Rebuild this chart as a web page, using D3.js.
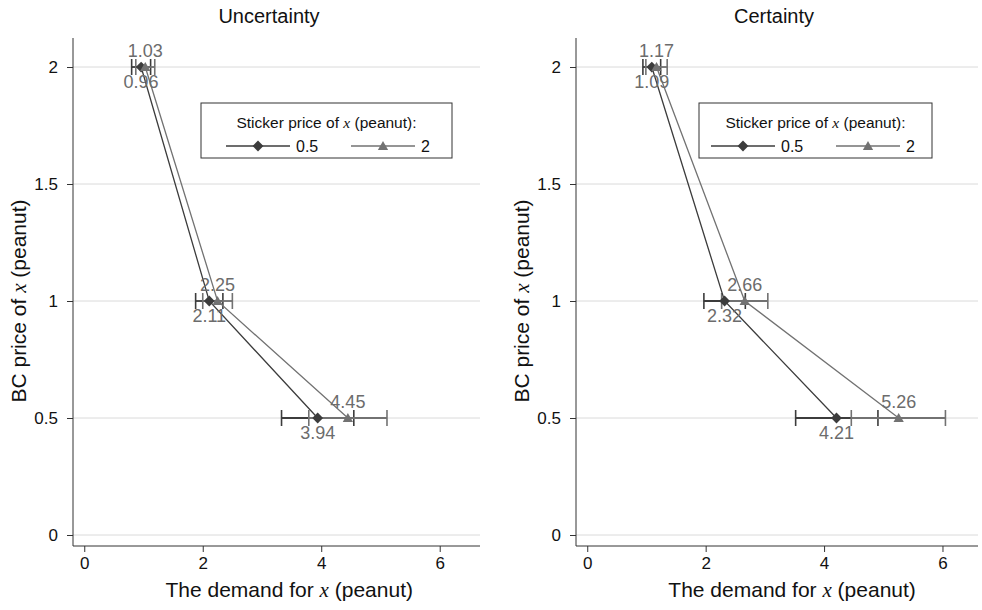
<!DOCTYPE html>
<html>
<head>
<meta charset="utf-8">
<script src="https://cdn.jsdelivr.net/npm/d3@7"></script>
<style>
  body { margin: 0; background: #fff; }
  svg { display: block; font-family: "Liberation Sans", Arial, Helvetica, sans-serif; }
</style>
</head>
<body>
<svg id="chart" width="982" height="610"></svg>
<script>
// BC price levels of x (y values)
const bcPrices = [2, 1, 0.5];
const yTicks = [0, 0.5, 1, 1.5, 2];
const xTicks = [0, 2, 4, 6];
const stickerPrices = ["0.5", "2"];

// Uncertainty panel: mean demand and 95% interval bounds
const uncDemandLow = [0.96, 2.11, 3.94];
const uncLowCiLo = [0.80, 1.88, 3.33];
const uncLowCiHi = [1.12, 2.34, 4.55];
const uncDemandHigh = [1.03, 2.25, 4.45];
const uncHighCiLo = [0.87, 2.00, 3.79];
const uncHighCiHi = [1.19, 2.50, 5.11];

// Certainty panel
const cerDemandLow = [1.09, 2.32, 4.21];
const cerLowCiLo = [0.94, 1.97, 3.52];
const cerLowCiHi = [1.24, 2.67, 4.91];
const cerDemandHigh = [1.17, 2.66, 5.26];
const cerHighCiLo = [0.99, 2.27, 4.46];
const cerHighCiHi = [1.35, 3.05, 6.05];

const panels = [
  { title: "Uncertainty", left: 73, right: 480, xMax: 6.68, titleX: 269,
    legend: { x: 201, w: 251, pad: 25 },
    series: [
      { values: uncDemandLow, lo: uncLowCiLo, hi: uncLowCiHi },
      { values: uncDemandHigh, lo: uncHighCiLo, hi: uncHighCiHi }
    ] },
  { title: "Certainty", left: 576, right: 978, xMax: 6.60, titleX: 774,
    legend: { x: 699, w: 233, pad: 12 },
    series: [
      { values: cerDemandLow, lo: cerLowCiLo, hi: cerLowCiHi },
      { values: cerDemandHigh, lo: cerHighCiLo, hi: cerHighCiHi }
    ] }
];

const styles = [
  { color: "#3c3c3c", marker: "diamond", labelDy: 21 },
  { color: "#727272", marker: "triangle", labelDy: -10 }
];
const labelColor = "#6c6c6c";

const svg = d3.select("#chart");
const plotTop = 38, plotBottom = 546;
const y = d3.scaleLinear().domain([-0.047, 2.124]).range([plotBottom, plotTop]);

function markerPath(kind) {
  return kind === "diamond"
    ? d3.symbol(d3.symbolSquare, 58)()
    : d3.symbol(d3.symbolTriangle, 46)();
}
function markerTransform(kind, cx, cy) {
  return kind === "diamond"
    ? `translate(${cx},${cy}) rotate(45)`
    : `translate(${cx},${cy + 1})`;
}

function italicX(sel, before, after) {
  sel.append("tspan").text(before);
  sel.append("tspan").attr("font-family", "'Liberation Serif', 'Times New Roman', serif")
    .attr("font-style", "italic").text("x");
  sel.append("tspan").text(after);
}

panels.forEach(p => {
  const x = d3.scaleLinear().domain([-0.19, p.xMax]).range([p.left, p.right]);
  const g = svg.append("g");

  // title
  g.append("text").attr("x", p.titleX).attr("y", 23).attr("text-anchor", "middle")
    .attr("font-size", 20).attr("fill", "#111").text(p.title);

  // gridlines
  g.selectAll("line.grid").data(yTicks).join("line")
    .attr("x1", p.left).attr("x2", p.right)
    .attr("y1", d => y(d)).attr("y2", d => y(d))
    .attr("stroke", "#dadada").attr("stroke-width", 1);

  // y axis
  const ya = g.append("g").attr("transform", `translate(${p.left},0)`)
    .call(d3.axisLeft(y).tickValues(yTicks).tickSize(6).tickPadding(9).tickFormat(d3.format("")));
  ya.select(".domain").attr("d", `M0,${plotTop}V${plotBottom}`).attr("stroke", "#333");
  ya.selectAll(".tick line").attr("stroke", "#333");
  ya.selectAll(".tick text").attr("font-size", 17).attr("fill", "#111")
    .attr("font-family", "'Liberation Sans', Arial, sans-serif");

  // x axis
  const xa = g.append("g").attr("transform", `translate(0,${plotBottom})`)
    .call(d3.axisBottom(x).tickValues(xTicks).tickSize(6).tickPadding(5).tickFormat(d3.format("")));
  xa.select(".domain").attr("d", `M${p.left},0H${p.right}`).attr("stroke", "#333");
  xa.selectAll(".tick line").attr("stroke", "#333");
  xa.selectAll(".tick text").attr("font-size", 17).attr("fill", "#111")
    .attr("font-family", "'Liberation Sans', Arial, sans-serif");

  // axis titles
  const xt = g.append("text").attr("x", x(3.46)).attr("y", 597).attr("text-anchor", "middle")
    .attr("font-size", 21).attr("fill", "#111");
  italicX(xt, "The demand for ", " (peanut)");
  const yt = g.append("text")
    .attr("transform", `translate(${p.left - 47},${y(1)}) rotate(-90)`)
    .attr("text-anchor", "middle").attr("font-size", 21).attr("fill", "#111");
  italicX(yt, "BC price of ", " (peanut)");

  // error bars
  p.series.forEach((s, si) => {
    const st = styles[si];
    const eb = g.append("g");
    bcPrices.forEach((bp, i) => {
      const yy = y(bp);
      eb.append("line").attr("x1", x(s.lo[i])).attr("x2", x(s.hi[i]))
        .attr("y1", yy).attr("y2", yy).attr("stroke", st.color).attr("stroke-width", 1.8);
      [s.lo[i], s.hi[i]].forEach(v => {
        eb.append("line").attr("x1", x(v)).attr("x2", x(v))
          .attr("y1", yy - 8).attr("y2", yy + 8).attr("stroke", st.color).attr("stroke-width", 1.6);
      });
    });
  });

  // connecting lines
  p.series.forEach((s, si) => {
    const st = styles[si];
    const line = d3.line().x(d => x(d[0])).y(d => y(d[1]));
    g.append("path").datum(s.values.map((v, i) => [v, bcPrices[i]]))
      .attr("d", line).attr("fill", "none").attr("stroke", st.color).attr("stroke-width", 1.3);
  });

  // markers and value labels
  p.series.forEach((s, si) => {
    const st = styles[si];
    s.values.forEach((v, i) => {
      g.append("path").attr("d", markerPath(st.marker))
        .attr("transform", markerTransform(st.marker, x(v), y(bcPrices[i])))
        .attr("fill", st.color);
      g.append("text").attr("x", x(v)).attr("y", y(bcPrices[i]) + st.labelDy)
        .attr("text-anchor", "middle").attr("font-size", 18).attr("fill", labelColor)
        .text(v.toFixed(2));
    });
  });

  // legend
  const lg = g.append("g").attr("transform", `translate(${p.legend.x},103)`);
  lg.append("rect").attr("width", p.legend.w).attr("height", 55)
    .attr("fill", "#fff").attr("stroke", "#333").attr("stroke-width", 1);
  const lt = lg.append("text").attr("x", p.legend.w / 2).attr("y", 25)
    .attr("text-anchor", "middle").attr("font-size", 15.5).attr("fill", "#111");
  italicX(lt, "Sticker price of ", " (peanut):");
  stickerPrices.forEach((lab, i) => {
    const st = styles[i];
    const x0 = p.legend.pad + i * 125;
    lg.append("line").attr("x1", x0).attr("x2", x0 + 64).attr("y1", 43).attr("y2", 43)
      .attr("stroke", st.color).attr("stroke-width", 1.3);
    lg.append("path").attr("d", markerPath(st.marker))
      .attr("transform", markerTransform(st.marker, x0 + 32, 43)).attr("fill", st.color);
    lg.append("text").attr("x", x0 + 70).attr("y", 49).attr("font-size", 16)
      .attr("fill", "#111").text(lab);
  });
});
</script>
</body>
</html>
